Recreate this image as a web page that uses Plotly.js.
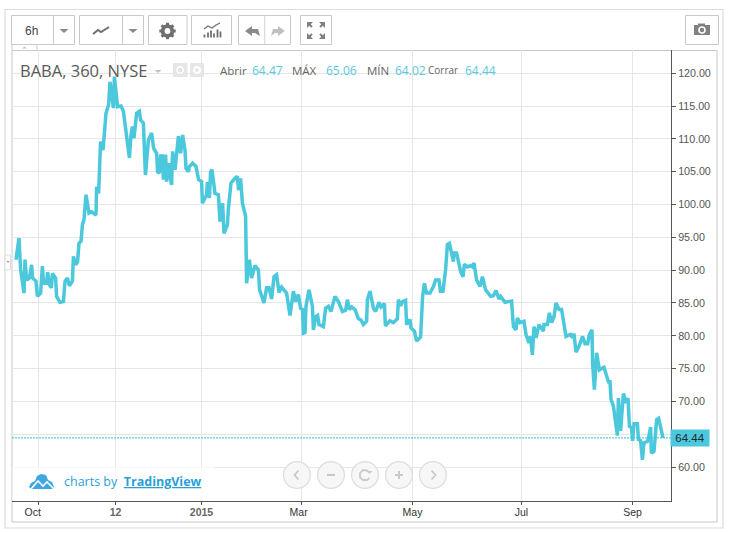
<!DOCTYPE html>
<html>
<head>
<meta charset="utf-8">
<script src="https://cdn.plot.ly/plotly-3.0.1.min.js"></script>
<style>html,body{margin:0;padding:0;background:#fff;overflow:hidden}#chart{width:729px;height:534px}</style>
</head>
<body>
<div id="chart"></div>
<script>
const barIndex = [0,1.5,2.3,4,4.5,5.3,6.7,7.8,8.3,10,10.7,12.3,13.2,13.8,15.3,15.8,16.7,17.7,18.2,19.8,20.3,22,23.7,24.5,25.7,26.7,28.2,28.7,29.8,30.8,31.5,32.5,33.2,34,35,36.5,37.8,40,40.3,41.3,42.3,43.5,45,46.3,47,48.7,49.2,50.8,52.5,53.7,56.7,57.5,58.2,59,60.3,61.7,62.3,63.7,64.7,66.2,67.8,68.8,70.3,70.8,71.7,72.3,73.2,73.7,74.8,75.3,76.3,77,77.8,78.3,79.5,81.2,82.3,83.3,84.5,85,86.2,86.7,88.3,90,91.3,92.8,93.2,95.3,95.7,96.7,97.3,98,99.5,101.2,102,103.3,104,105.7,106.2,107.5,109.5,110.7,111.3,112.3,113.2,114.8,115.3,116.7,117.8,119.5,121.2,121.8,124,125.3,126.5,127.8,129,130.3,131.5,132.8,135.3,137,138.7,139.8,141.2,142.3,143.3,143.7,144.5,145,146.5,148.2,148.7,149.8,150.8,151.5,153.7,154.8,156.2,157.5,159.5,161.2,163.2,164.8,165.7,166.7,167.8,169.5,171.2,172.5,173.7,175.3,175.7,177,178.7,179.8,181.5,182.5,184.2,184.7,187,188.7,190.7,191.2,192.3,193.3,194.8,195.3,197,197.5,199.2,200.3,202.3,203.3,204.2,205.3,207,208.7,209.8,211.5,212.2,213.5,214.8,215.7,216.7,218.7,219,220.3,222.3,223.5,224.2,225.7,227.3,228.2,229,230.3,232,233.2,234.8,237.3,238.7,240,241.5,242.3,244.5,247.8,248.7,250,250.7,252,254,255,256.5,257.2,258.2,259,260,261.5,263.7,264,265.7,266.7,267.8,269,270,271.5,272.8,275,277.3,278.3,279,280,281.5,283.3,284.5,285.8,286.7,288,288.3,289.2,290.3,291.7,294,296.2,297,297.5,298.7,300.7,301.2,302.3,303.7,305,306,306.7,307.8,308.3,309,310.7,311.2,312.3,313.2,314,315.7,316.2,317.3,317.7,319,320.3,321.3,323.5];
const closes = [91.6,94.9,90.1,86.5,91.6,88.5,88.8,90.8,88.8,88.3,86,86.5,90.6,88,88,89.7,87.8,87.3,89.5,88.8,86,85.1,85.2,88.3,88.8,87.6,88.3,92.1,90.8,91.3,94.1,94.4,96.9,97.7,101.5,98.7,98.9,98.4,102.7,101.7,109.6,108.3,113.9,115.2,118.7,114.7,119.5,114.9,115,114.2,107.1,110.6,111.9,110.1,113.9,114.2,112.9,112.4,104.5,109.8,110.9,108.6,107.8,105,104.8,107.4,107.4,103.8,107.6,103.5,106.3,104.3,103,108.1,105.3,110.4,107.8,110.6,108.3,105.5,105,105.8,106.3,105.8,103.8,103.5,100.2,101.5,103.4,101,105,105.3,101.7,101.5,97.4,100.2,95.6,96.9,99.4,103.3,104,104.3,102.2,104,100.2,98.2,88,91.6,88.8,90.7,90,87,85,87.3,87.3,85.6,89,89.3,86.6,87.4,86.5,83.1,86.8,85.2,86.3,84.2,84,80.4,80.5,84.5,87,84.5,80.9,82.9,83.1,81.7,81.4,84.2,84.5,83.7,86,85.2,83.7,83.9,85.5,84,84.4,84,82.6,82.4,81.7,82.2,85.5,86.8,84.2,83.7,85.1,84.4,84.9,81.5,82.3,82,82.6,85.5,84.6,85.2,85.4,81.7,82.5,81.2,80.7,79.2,79.8,86,88,86.5,86.5,87.5,88.5,88.5,86.8,86.8,90.1,93.9,94.1,91.3,92.6,92.6,89.8,89,90.9,90.5,90.7,90.5,91.1,88.5,87.5,89,87,86,86.1,86.9,85.6,86,85.1,85.3,81.4,80.9,82.7,82,82.2,80.2,78.9,79.9,77.1,81.4,79.7,81.7,80.7,81.7,81.7,83.5,82,82.9,85,84,84,79.9,80.2,79.7,80.3,77.5,78.4,79.9,78.8,78.8,80.2,80.9,75.8,71.8,77.4,74.8,75.2,73,73,70.3,69.3,64.8,70.5,65.5,71.2,69.8,70.5,66.2,66,64,66.6,66.6,64.2,64,61.1,63.7,63.9,64.3,66.1,62.1,62.4,67.2,67.4,64.44];
const xTickIndex = [11.25,49.75,92.75,142.75,198.25,252.75,308.25];
const xTickLabels = ['Oct&nbsp;&nbsp;&nbsp;&nbsp;','<span style="color:#666"><b>12</b></span>','<span style="color:#666"><b>2015</b></span>','Mar&nbsp;&nbsp;','May','Jul','Sep'];
const priceTicks = [60,65,70,75,80,85,90,95,100,105,110,115,120];
const priceLabels = ['60.00','65.00','70.00','75.00','80.00','85.00','90.00','95.00','100.00','105.00','110.00','115.00','120.00'];
const lastClose = 64.44;
const ohlcLabels = ['Abrir','MÁX','MÍN','Corrar'];
const ohlcValues = ['64.47','65.06','64.02','64.44'];
const symbolTitle = 'BABA, 360, NYSE';

// page-pixel helpers for the surrounding widget furniture
const L=12,R=671,T=50,B=501;
const PX=x=>(x-L)/(R-L), PY=y=>(B-y)/(B-T);
const shapes=[];
function rect(x0,y0,x1,y1,line,fill,w,layer){shapes.push({type:'rect',xref:'paper',yref:'paper',x0:PX(x0),x1:PX(x1),y0:PY(y0),y1:PY(y1),line:{color:line||'rgba(0,0,0,0)',width:w===undefined?1:w},fillcolor:fill||'rgba(0,0,0,0)',layer:layer||'above'});}
function seg(pts,line,w,fill,close){const p=pts.map((q,i)=>(i?'L':'M')+PX(q[0]).toFixed(5)+' '+PY(q[1]).toFixed(5)).join(' ')+(close?' Z':'');shapes.push({type:'path',xref:'paper',yref:'paper',path:p,line:{color:line||'rgba(0,0,0,0)',width:w===undefined?1:w},fillcolor:fill||'rgba(0,0,0,0)',layer:'above'});}
function circ(cx,cy,r,line,fill,w){shapes.push({type:'circle',xref:'paper',yref:'paper',x0:PX(cx-r),x1:PX(cx+r),y0:PY(cy+r),y1:PY(cy-r),line:{color:line||'rgba(0,0,0,0)',width:w===undefined?1:w},fillcolor:fill||'rgba(0,0,0,0)',layer:'above'});}
function tri(x,y,w,h,c,up){seg(up?[[x-w,y+h],[x+w,y+h],[x,y]]:[[x-w,y],[x+w,y],[x,y+h]],null,0,c,true);}

const BTN='#c9c9c9',ICON='#808080';
rect(5,9.5,723,528,'#dcdcdc','rgba(0,0,0,0)',1.2,'below');
rect(12,50.5,717,522,'#c6c6c6','rgba(0,0,0,0)',1,'below');
// toolbar
rect(11.5,15.5,74.5,44.5,BTN); seg([[53.5,15.5],[53.5,44.5]],BTN);
tri(64,29,4.5,4,'#8a8a8a');
rect(79.5,15.5,143.5,44.5,BTN); seg([[122.5,15.5],[122.5,44.5]],BTN);
tri(133,29,4.5,4,'#8a8a8a');
seg([[93,34],[98,30],[101,32],[109,27]],'#707070',2);
rect(148.5,15.5,187,44.5,BTN);
circ(167.5,31,5,'#707070','rgba(0,0,0,0)',3.6);
[[167.5,22.8,167.5,39.2],[159.3,31,175.7,31],[161.7,25.2,173.3,36.8],[173.3,25.2,161.7,36.8]].forEach(a=>seg([[a[0],a[1]],[a[2],a[3]]],'#707070',3));
circ(167.5,31,2.9,null,'#ffffff',0);
rect(191.5,15.5,231.5,44.5,BTN);
[[204.5,3],[208,5],[211,7],[214,4],[217.5,8],[220.5,6]].forEach(b=>seg([[b[0],37.5],[b[0],37.5-b[1]]],'#707070',1.8));
seg([[204,29],[208,26],[212,28],[216,25],[220,23]],'#707070',1.3);
rect(238.5,15.5,290.5,44.5,BTN); seg([[264.7,15.5],[264.7,44.5]],'#d4d4d4');
seg([[245,31],[252,26],[252,29],[258,29],[260,36],[255,33],[252,33],[252,36]],null,0,'#8a8a8a',true);
seg([[285,31],[278,26],[278,29],[273,29],[271,36],[275,33],[278,33],[278,36]],null,0,'#c0c0c0',true);
rect(300.5,15.5,331.5,44.5,BTN);
[[307,22,313,22,307,28],[325,22,319,22,325,28],[307,39,313,39,307,33],[325,39,319,39,325,33]].forEach(a=>seg([[a[0],a[1]],[a[2],a[3]],[a[4],a[5]]],null,0,'#808080',true));
[[309,24,312,27],[323,24,320,27],[309,37,312,34],[323,37,320,34]].forEach(a=>seg([[a[0],a[1]],[a[2],a[3]]],'#808080',2));
rect(685.5,15.5,718.5,44.5,BTN);
rect(694,25,710,35,null,'#808080',0); rect(698,23.5,705,26,null,'#808080',0);
circ(702,30,3,'#ffffff','#808080',1.6);
// small tab
rect(12,44.5,37,50.5,BTN); tri(24.5,46.5,2.5,2,'#c0c0c0',true);
rect(5,255,10.5,270,'#dcdcdc','#ffffff',1); tri(8,261,1.5,2,'#9a9a9a');
// legend icons
tri(158,70,3.5,3,'#c0c0c0');
rect(173,63,187.5,77,null,'#e6e6e6',0); rect(190,63,204,77,null,'#e6e6e6',0);
circ(180.2,70,3.2,'#ffffff','rgba(0,0,0,0)',1.4); circ(197,70,3,'#ffffff','rgba(0,0,0,0)',2);
// logo panel
rect(12.5,467,215,500.3,null,'rgba(255,255,255,0.72)',0);
seg([[29,487],[31,483],[35,481],[37,476],[41,474],[46,475],[48,480],[52,482],[54,487],[52,489],[31,489]],null,0,'#3fa7e0',true);
seg([[31,489],[38,481],[43,486],[47,482],[53,488]],'#ffffff',1.6);
// nav circles
[297,331,365,399,433].forEach(c=>circ(c,475,13.4,'#dddddd','rgba(246,246,246,0.9)',1.2));
seg([[298.5,470.5],[294.5,475],[298.5,479.5]],'#c9c9c9',1.8);
seg([[327,475],[335,475]],'#c9c9c9',2);
seg([[369.5,472.5],[367,470.5],[363,470],[360,473],[360,477.5],[363,480],[367,480],[369.5,478]],'#c9c9c9',1.8);
tri(370,471,2.5,3,'#c9c9c9');
seg([[395,475],[403,475]],'#c9c9c9',2); seg([[399,471],[399,479]],'#c9c9c9',2);
seg([[431.5,470.5],[435.5,475],[431.5,479.5]],'#c9c9c9',1.8);
// last price line
shapes.push({type:'line',xref:'paper',yref:'y',x0:0,x1:1,y0:lastClose,y1:lastClose,line:{color:'#2cc3d6',width:1,dash:'2px,1px'},layer:'above'});

const TXT='"Liberation Sans",Arial,sans-serif', OS='"Open Sans",sans-serif', TEAL='#5ac8dd';
function note(text,x,y,size,color,anchor,family){return {text,xref:'paper',yref:'paper',x:PX(x),y:PY(y),xanchor:anchor||'left',yanchor:'middle',showarrow:false,align:'left',borderpad:0,font:{family:family||TXT,size,color}};}
const ann=[
 note('6h',31.5,31,12,'#444',"center",'"Liberation Sans"'),
 note(symbolTitle,18.5,70.5,16.5,'#5a5a5a','left',OS),
 note(ohlcLabels[0],219,70.5,11.5,'#666','left',OS),
 note(ohlcValues[0],250.5,71,12,TEAL,'left',OS),
 note(ohlcLabels[1],291,71,11.5,'#666','left',OS),
 note(ohlcValues[1],324.5,71,12,TEAL,'left',OS),
 note(ohlcLabels[2],366,71,11.5,'#666','left',OS),
 note(ohlcValues[2],393.5,71,12,TEAL,'left',OS),
 note(ohlcLabels[3],427,70.5,10,'#666','left',OS),
 note(ohlcValues[3],463.5,71,12,TEAL,'left',OS),
 note('charts by  <b><u>TradingView</u></b>',63,481.5,12.5,'#2a9fd6','left',OS),
 {text:String(lastClose.toFixed(2)),xref:'paper',yref:'y',x:PX(690),y:lastClose,xanchor:'center',yanchor:'middle',showarrow:false,width:38,height:15.5,borderpad:0,bgcolor:'#4bc8dc',font:{family:TXT,size:11.5,color:'#1c2a2e'}}
];

Plotly.newPlot('chart',[{
  type:'scatter',mode:'lines',x:barIndex,y:closes,
  line:{color:'#4bc8dc',width:3.5,shape:'linear',simplify:false},hoverinfo:'skip'
}],{
  width:729,height:534,autosize:false,showlegend:false,
  paper_bgcolor:'#ffffff',plot_bgcolor:'#ffffff',
  margin:{l:L,r:729-R,t:T,b:534-B,pad:0},
  xaxis:{range:[-2,327.5],tickmode:'array',tickvals:xTickIndex,ticktext:xTickLabels,tickangle:0,
    showgrid:true,gridcolor:'#e6e6e6',gridwidth:1,zeroline:false,
    showline:true,linecolor:'#555555',linewidth:1,ticks:'outside',ticklen:3,tickcolor:'#555555',ticklabelstandoff:-2,
    tickfont:{family:TXT,size:10.5,color:'#333333'}},
  yaxis:{side:'right',range:[54.82,123.55],tickmode:'array',tickvals:priceTicks,ticktext:priceLabels,
    showgrid:true,gridcolor:'#e6e6e6',gridwidth:1,zeroline:false,
    showline:true,linecolor:'#555555',linewidth:1,ticks:'outside',ticklen:4,tickcolor:'#555555',
    tickfont:{family:TXT,size:10.7,color:'#555555'}},
  shapes,annotations:ann
},{displayModeBar:false,staticPlot:true});
</script>
</body>
</html>
